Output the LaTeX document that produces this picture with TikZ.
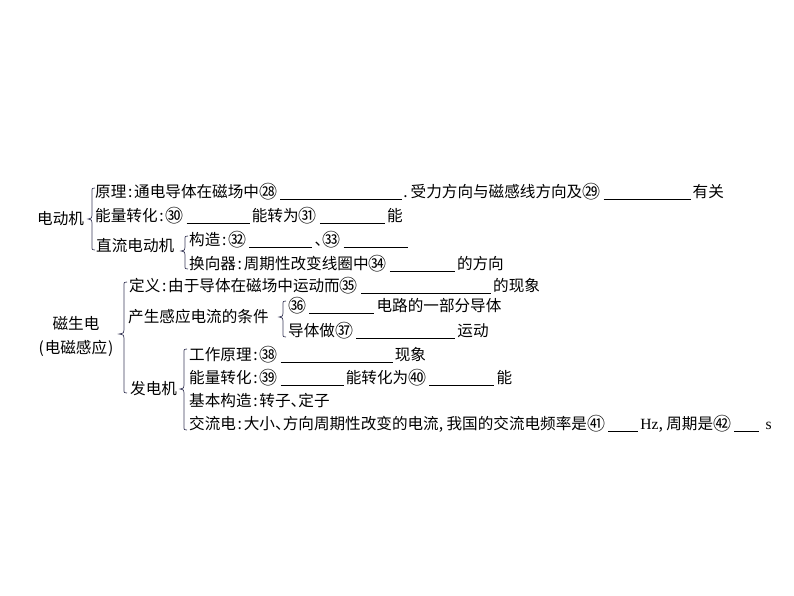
\documentclass[tikz,border=0pt]{standalone}
\usepackage{fontspec}
\newfontfamily\cjk{Noto Sans CJK SC}
\newfontfamily\lat{Liberation Serif}
\newcommand\cln{\makebox[0.5em][c]{:}}
\newcommand\dun{\makebox[0.5em][l]{、}}
\newcommand\cma{\makebox[0.5em][l]{,}}
\newcommand\cn[1]{\raisebox{-1.1pt}{\fontsize{18}{20}\selectfont #1}}
\definecolor{brc}{RGB}{60,60,90}
\tikzset{
 t/.style={anchor=west, inner sep=0pt, text height=13.3pt, text depth=1.9pt, font=\cjk\fontsize{15.6}{19}\selectfont},
 ul/.style={line width=0.7pt},
 br/.style={line width=0.7pt, draw=brc},
}
\newcommand\cbr[5]{\draw[br] ({#1+3},#3) .. controls (#1,#3) .. (#1,{#3+4}) -- (#1,{#4-4}) .. controls (#1,{#4-1}) .. (#2,#4) .. controls (#1,{#4+1}) .. (#1,{#4+4}) -- (#1,{#5-4}) .. controls (#1,#5) .. ({#1+3},#5);}
\newcommand\bl[3]{\draw[ul] ([xshift=3pt,yshift=-7.5pt]#1.east) -- ++(#2,0) coordinate (#3);}
\begin{document}
\begin{tikzpicture}[x=1pt,y=-1pt]
\useasboundingbox (0,0) rectangle (794,596);
% 电动机
\node[t] (ddj) at (37,219) {电动机};
\cbr{92}{88}{188}{219}{250}
\node[t] (yl) at (95,192) {原理\cln 通电导体在磁场中\cn{㉘}};
\bl{yl}{122}{b28}
\node[t] (sl) at ([xshift=1pt,yshift=7.5pt]b28) {.\kern3pt 受力方向与磁感线方向及\cn{㉙}};
\bl{sl}{87}{b29}
\node[t] (yg) at ([xshift=2pt,yshift=7.5pt]b29) {有关};
\node[t] (nl1) at (95,216) {能量转化\cln \cn{㉚}};
\bl{nl1}{63}{b30}
\node[t] (nz1) at ([xshift=2pt,yshift=7.5pt]b30) {能转为\cn{㉛}};
\bl{nz1}{65}{b31}
\node[t] (n1) at ([xshift=2pt,yshift=7.5pt]b31) {能};
\node[t] (zl) at (96,246) {直流电动机};
\cbr{185}{181}{236}{251}{269}
\node[t] (gz) at (189,240) {构造\cln \cn{㉜}};
\bl{gz}{63}{b32}
\node[t] (d33) at ([xshift=2pt,yshift=7.5pt]b32) {\dun \cn{㉝}};
\bl{d33}{64}{b33}
\node[t] (hx) at (189,264) {换向器\cln 周期性改变线圈中\cn{㉞}};
\bl{hx}{65}{b34}
\node[t] (fx) at ([xshift=2pt,yshift=7.5pt]b34) {的方向};
% 磁生电
\node[t,anchor=center] (csd) at (76,324) {磁生电};
\node[t,anchor=center] (dc) at (76,348) {(\kern1pt 电磁感应\kern1pt)};
\cbr{124}{119}{282}{334}{393}
\node[t] (dy) at (129,286) {定义\cln 由于导体在磁场中运动而\cn{㉟}};
\bl{dy}{130}{b35}
\node[t] (xx) at ([xshift=2pt,yshift=7.5pt]b35) {的现象};
\node[t] (tj) at (128,317) {产生感应电流的条件};
\cbr{283}{279}{301}{317}{337}
\node[t] (c36) at (288,306) {\cn{㊱}};
\bl{c36}{65}{b36}
\node[t] (dl) at ([xshift=2pt,yshift=7.5pt]b36) {电路的一部分导体};
\node[t] (dtz) at (288,331) {导体做\cn{㊲}};
\bl{dtz}{99}{b37}
\node[t] (yd) at ([xshift=2pt,yshift=7.5pt]b37) {运动};
% 发电机
\node[t] (fdj) at (130,389) {发电机};
\cbr{184}{180}{349}{389}{430}
\node[t] (gy) at (189,355) {工作原理\cln \cn{㊳}};
\bl{gy}{112}{b38}
\node[t] (xx2) at ([xshift=2pt,yshift=7.5pt]b38) {现象};
\node[t] (nl2) at (189,378) {能量转化\cln \cn{㊴}};
\bl{nl2}{63}{b39}
\node[t] (nz2) at ([xshift=2pt,yshift=7.5pt]b39) {能转化为\cn{㊵}};
\bl{nz2}{65}{b40}
\node[t] (n2) at ([xshift=2pt,yshift=7.5pt]b40) {能};
\node[t] (jb) at (189,401) {基本构造\cln 转子\dun 定子};
\node[t] (jl) at (189,424) {交流电\cln 大小\dun 方向周期性改变的电流\cma 我国的交流电频率是\cn{㊶}};
\bl{jl}{30}{b41}
\node[t] (hz) at ([xshift=2pt,yshift=7.5pt]b41) {{\lat Hz}\cma 周期是\cn{㊷}};
\bl{hz}{25}{b42}
\node[t] (ss) at ([xshift=6pt,yshift=7.5pt]b42) {{\lat s}};
\end{tikzpicture}
\end{document}
